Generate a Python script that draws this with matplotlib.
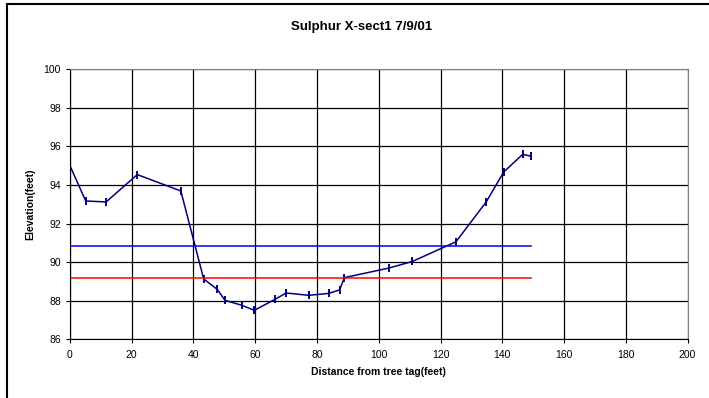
import matplotlib.pyplot as plt
from matplotlib.patches import Rectangle

# survey points across the section
distance_ft = [0, 5.1, 11.7, 21.8, 35.9, 43.3, 47.7, 50.2, 55.7, 59.7, 66.4, 70.0,
               77.3, 83.8, 87.3, 88.9, 103.4, 110.9, 125.0, 134.8, 140.5, 146.6, 149.3]
elevation_ft = [95.0, 93.17, 93.12, 94.54, 93.69, 89.12, 88.58, 88.01, 87.75, 87.49, 88.06, 88.39,
                88.27, 88.37, 88.55, 89.19, 89.69, 90.03, 91.05, 93.12, 94.68, 95.59, 95.5]

# reference levels
blue_x = [0, 149.4]
blue_y = [90.82, 90.82]
red_x = [0, 149.4]
red_y = [89.15, 89.15]

plt.rcParams['font.family'] = ['Liberation Sans', 'DejaVu Sans']

fig = plt.figure(figsize=(7.09, 3.98), dpi=100)
ax = fig.add_axes([0.0987, 0.1482, 0.871, 0.6772])

# chart area border (Excel style)
fig.patches.append(Rectangle((7 / 709, -0.05), 1.1, 1 - 4 / 398 + 0.05, transform=fig.transFigure,
                             fill=False, edgecolor='k', linewidth=1.5))

ax.plot(distance_ft, elevation_ft, color='#000080', linewidth=1.1, marker='|',
        markersize=6, markeredgewidth=1.4)
ax.plot(blue_x, blue_y, color='#0000ff', linewidth=1.1)
ax.plot(red_x, red_y, color='#ff0000', linewidth=1.1)

ax.set_xlim(0, 200)
ax.set_ylim(86, 100)
ax.set_xticks(range(0, 201, 20))
ax.set_yticks(range(86, 101, 2))
ax.grid(True, color='k', linewidth=0.9)
ax.set_axisbelow(True)

ax.spines['top'].set_color('gray')
ax.spines['right'].set_color('gray')
ax.spines['left'].set_color('k')
ax.spines['bottom'].set_color('k')
ax.tick_params(labelsize=7.5, length=3, direction='out')
ax.tick_params(axis='y', pad=3.5)
ax.tick_params(axis='x', pad=5)

fig.text(362 / 709, 1 - 27 / 398, 'Sulphur X-sect1 7/9/01', fontsize=9.5, fontweight='bold',
         ha='center', va='center')
ax.set_xlabel('Distance from tree tag(feet)', fontsize=7.5, fontweight='bold', labelpad=5)
ax.set_ylabel('Elevation(feet)', fontsize=7.5, fontweight='bold', labelpad=6)

fig.savefig('out.png', dpi=100)
